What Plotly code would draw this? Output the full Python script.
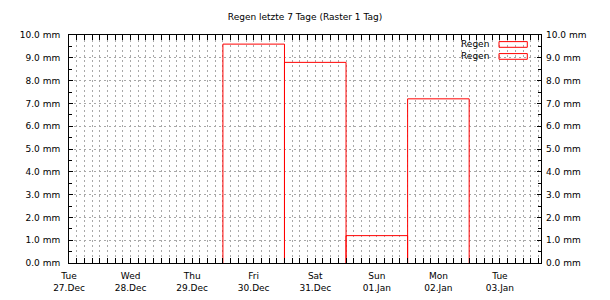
import pandas as pd
import plotly.graph_objects as go

# Data
days = ["2022-12-30", "2022-12-31", "2023-01-01", "2023-01-02"]
rain_mm = [9.6, 8.8, 1.2, 7.2]
series_names = ["Regen", "Regen"]
title_text = "Regen letzte 7 Tage (Raster 1 Tag)"

DAY_MS = 86400000
FONT = "DejaVu Sans"
GRID = "#a8a8a8"
RED = "#ff0000"

# build open-bottom rectangles (one day wide, centred on each day) from the data
xs, ys = [], []
for d, v in zip(days, rain_mm):
    c = pd.Timestamp(d)
    left = c - pd.Timedelta(hours=12)
    right = c + pd.Timedelta(hours=12)
    xs += [left, left, right, right, None]
    ys += [0, v, v, 0, None]

fig = go.Figure()
fig.add_trace(go.Scatter(
    x=xs, y=ys, mode="lines", line=dict(color=RED, width=1),
    connectgaps=False, name=series_names[0], showlegend=False, hoverinfo="skip",
))
# helper trace so the right-hand axis is drawn
fig.add_trace(go.Scatter(x=[days[0]], y=[None], yaxis="y2", mode="lines",
                         showlegend=False, hoverinfo="skip"))

xaxis = dict(
    type="date", range=["2022-12-27 00:00", "2023-01-03 16:00"],
    tick0="2022-12-27", dtick=DAY_MS, tickformat="%a<br>%d.%b",
    ticks="inside", ticklen=5, tickcolor="black", tickwidth=1,
    showline=True, linecolor="black", linewidth=1, mirror="allticks",
    showgrid=True, gridcolor=GRID, griddash="2px,3px", gridwidth=1,
    minor=dict(dtick=3 * 3600 * 1000, ticks="inside", ticklen=3, tickcolor="black",
               showgrid=True, gridcolor=GRID, griddash="2px,3px", gridwidth=1),
    tickfont=dict(family=FONT, size=9, color="black"),
    ticklabelstandoff=4, zeroline=False, fixedrange=True, automargin=False,
)
yaxis = dict(
    range=[0, 10], dtick=1, tick0=0, tickformat=".1f", ticksuffix=" mm",
    ticks="inside", ticklen=4, tickcolor="black",
    showline=True, linecolor="black", linewidth=1, mirror=True,
    showgrid=True, gridcolor=GRID, griddash="2px,3px", gridwidth=1,
    minor=dict(dtick=0.5, ticks="inside", ticklen=3, tickcolor="black", showgrid=False),
    tickfont=dict(family=FONT, size=9, color="black"),
    ticklabelstandoff=6, zeroline=False, automargin=False,
)
yaxis2 = dict(
    range=[0, 10], dtick=1, tick0=0, tickformat=".1f", ticksuffix=" mm",
    overlaying="y", side="right",
    ticks="inside", ticklen=4, tickcolor="black",
    showline=False, showgrid=False,
    minor=dict(dtick=0.5, ticks="inside", ticklen=3, tickcolor="black", showgrid=False),
    tickfont=dict(family=FONT, size=9, color="black"),
    ticklabelstandoff=4, zeroline=False, automargin=False,
)

# legend drawn as text + outlined boxes (text left of the symbol)
legend_y = [0.9585, 0.906]
annotations = []
shapes = []
for name, ly in zip(series_names, legend_y):
    annotations.append(dict(xref="paper", yref="paper", x=0.895, y=ly, text=name,
                            showarrow=False, xanchor="right", yanchor="middle",
                            font=dict(family=FONT, size=9, color="black")))
    shapes.append(dict(type="rect", xref="paper", yref="paper",
                       x0=0.911, x1=0.971, y0=ly - 0.0125, y1=ly + 0.0125,
                       line=dict(color=RED, width=1), fillcolor="rgba(0,0,0,0)"))

fig.update_layout(
    width=610, height=300,
    margin=dict(l=69, r=69, t=35, b=37),
    paper_bgcolor="white", plot_bgcolor="white",
    title=dict(text=title_text, x=0.5, xanchor="center", y=0.943, yanchor="middle",
               font=dict(family=FONT, size=9, color="black")),
    xaxis=xaxis, yaxis=yaxis, yaxis2=yaxis2,
    showlegend=False,
    annotations=annotations, shapes=shapes,
)

fig.write_html("out.html", config={"displayModeBar": False})
